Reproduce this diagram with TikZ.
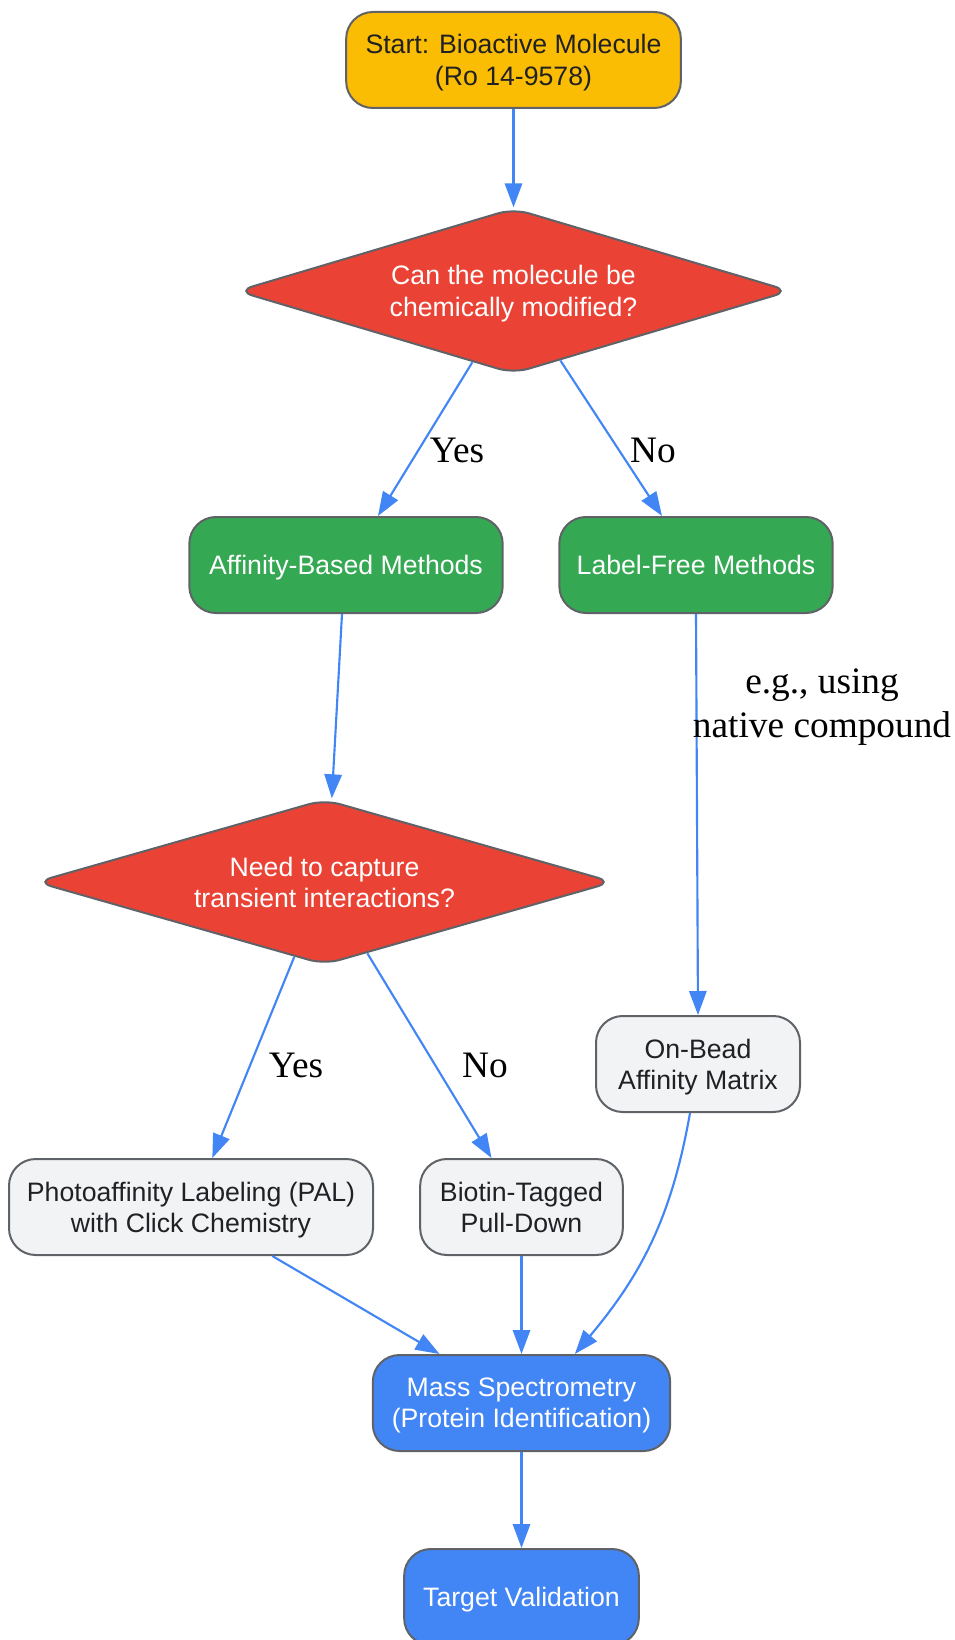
\documentclass[tikz,border=0pt]{standalone}
\usepackage{fontspec}
\setmainfont{Liberation Serif}
\newfontfamily\boxfont{Liberation Sans}
\usepackage{tikz}
\usetikzlibrary{shapes.geometric,arrows.meta}

\definecolor{startyellow}{HTML}{FBBC04}
\definecolor{askred}{HTML}{EA4335}
\definecolor{methgreen}{HTML}{34A853}
\definecolor{stepgray}{HTML}{F1F3F4}
\definecolor{outblue}{HTML}{4285F4}
\definecolor{rimgray}{HTML}{5F6368}
\definecolor{inkdark}{HTML}{202124}

\begin{document}
\begin{tikzpicture}[x=0.75pt,y=0.75pt,yscale=-1,xscale=1,
  box/.style={draw=rimgray, line width=1.5pt, rounded corners=20pt, align=center,
    inner sep=0pt, minimum height=72pt, text depth=0pt, font=\boxfont\fontsize{20}{23.5}\selectfont},
  ask/.style={draw=rimgray, line width=1.5pt, fill=askred, text=white, shape=diamond,
    aspect=3.3, rounded corners=12pt, inner sep=0pt, align=center, text depth=0pt,
    minimum width=415pt, minimum height=124pt, font=\boxfont\fontsize{20}{23.5}\selectfont},
  flow/.style={draw=outblue, line width=1.6pt, -{Triangle[length=18pt,width=13pt]}},
  lbl/.style={align=center, font=\fontsize{28}{33}\selectfont}]
%uncomment if require: \path (0,1640); %set diagram left start at 0, and has height of 1640
\useasboundingbox (0,0) rectangle (954,1640);

% Nodes
\node [box, fill=startyellow, text=inkdark, minimum width=251pt] (start) at (513.5,60) {Start: Bioactive Molecule\\(Ro 14-9578)};
\node [ask] (dmod) at (513.5,291) {Can the molecule be\\chemically modified?};
\node [box, fill=methgreen, text=white, minimum width=235pt] (affin) at (346,565) {Affinity-Based Methods};
\node [box, fill=methgreen, text=white, minimum width=205pt] (lfree) at (696,565) {Label-Free Methods};
\node [ask, minimum width=433pt] (dtrans) at (324.5,882) {Need to capture\\transient interactions?};
\node [box, fill=stepgray, text=inkdark, minimum width=153pt] (onbead) at (698,1064) {On-Bead\\Affinity Matrix};
\node [box, fill=stepgray, text=inkdark, minimum width=273pt] (pal) at (191,1207) {Photoaffinity Labeling (PAL)\\with Click Chemistry};
\node [box, fill=stepgray, text=inkdark, minimum width=152pt] (biotin) at (521.5,1207) {Biotin-Tagged\\Pull-Down};
\node [box, fill=outblue, text=white, minimum width=223pt] (msid) at (521.5,1403) {Mass Spectrometry\\(Protein Identification)};
\node [box, fill=outblue, text=white, minimum width=176pt] (tval) at (521.5,1597) {Target Validation};

% Connectors
\draw [flow] (start) -- (dmod.north);
\draw [flow] (dmod.-120.7) -- ([xshift=24pt]affin.north);
\draw [flow] (dmod.-56.8) -- ([xshift=-25.5pt]lfree.north);
\draw [flow] ([xshift=-3pt]affin.south) -- ([xshift=5.5pt]dtrans.north);
\draw [flow] (lfree.south) -- (onbead.north);
\draw [flow] (dtrans.-112) -- ([xshift=16pt]pal.north);
\draw [flow] (dtrans.-59.2) -- ([xshift=-22.5pt]biotin.north);
\draw [flow] ([xshift=61pt]pal.south) -- ([xshift=-61.5pt]msid.north);
\draw [flow] (biotin.south) -- (msid.north);
\draw [flow] ([xshift=-6pt]onbead.south) to[out=100,in=-50] ([xshift=40pt]msid.north);
\draw [flow] (msid) -- (tval);

% Text Node
\node [lbl] (yesmod) at (457,450) {Yes};
\node [lbl] (nomod) at (653,450) {No};
\node [lbl] (native) at (822,707) {e.g., using\\native compound};
\node [lbl] (yestrans) at (296,1065) {Yes};
\node [lbl] (notrans) at (485,1065) {No};

\end{tikzpicture}
\end{document}
